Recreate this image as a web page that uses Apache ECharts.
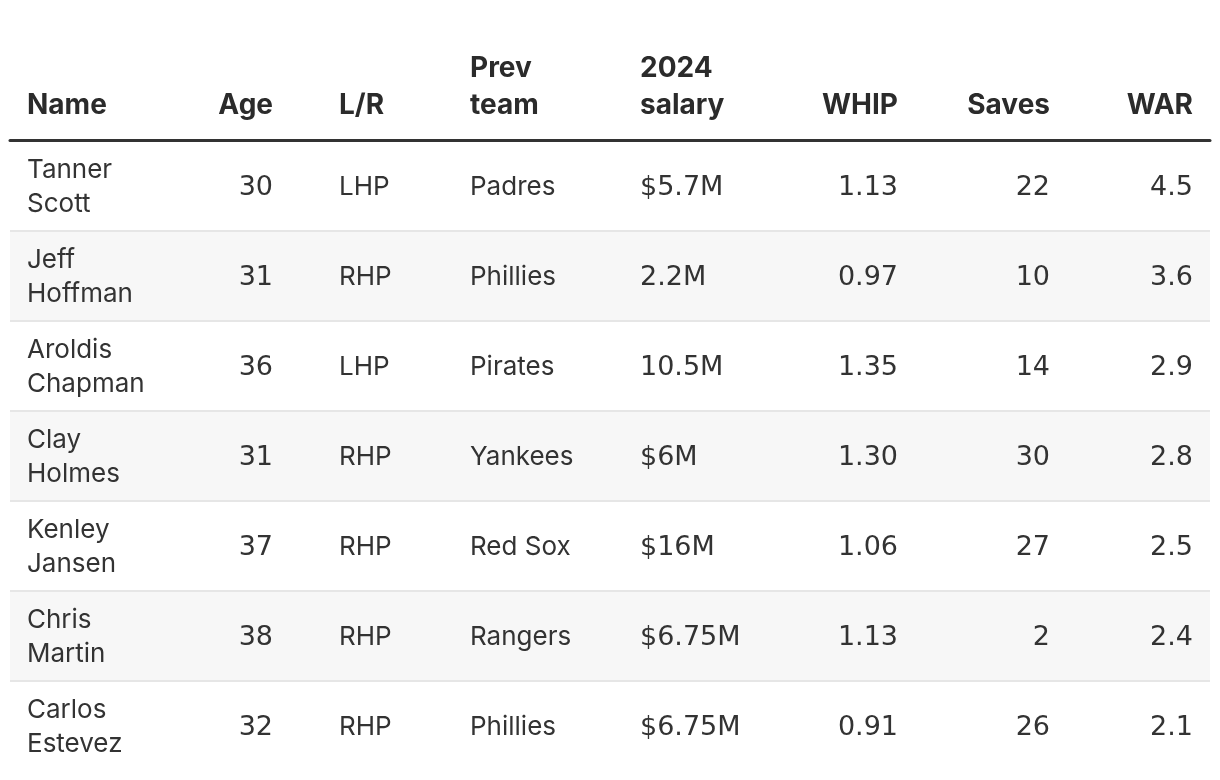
<!DOCTYPE html>
<html>
<head>
<meta charset="utf-8">
<script src="https://cdn.jsdelivr.net/npm/echarts@6/dist/echarts.min.js"></script>
<style>
  html, body { margin: 0; padding: 0; background: #fff; }
  #chart { width: 1220px; height: 780px; }
</style>
</head>
<body>
<div id="chart"></div>
<script>
// table data
const headers = ['Name', 'Age', 'L/R', 'Prev\nteam', '2024\nsalary', 'WHIP', 'Saves', 'WAR']
const names = ['Tanner\nScott', 'Jeff\nHoffman', 'Aroldis\nChapman', 'Clay\nHolmes', 'Kenley\nJansen', 'Chris\nMartin', 'Carlos\nEstevez']
const ages = [30, 31, 36, 31, 37, 38, 32]
const hands = ['LHP', 'RHP', 'LHP', 'RHP', 'RHP', 'RHP', 'RHP']
const prevTeams = ['Padres', 'Phillies', 'Pirates', 'Yankees', 'Red Sox', 'Rangers', 'Phillies']
const salaries = ['$5.7M', '2.2M', '10.5M', '$6M', '$16M', '$6.75M', '$6.75M']
const whips = [1.13, 0.97, 1.35, 1.30, 1.06, 1.13, 0.91]
const saves = [22, 10, 14, 30, 27, 2, 26]
const wars = [4.5, 3.6, 2.9, 2.8, 2.5, 2.4, 2.1]

// column anchors (x offset inside the table), alignment, numeric font or not
const colX = [17, 263, 329, 460, 630, 888, 1040, 1183]
const colAlign = ['left', 'right', 'left', 'left', 'left', 'right', 'right', 'right']
const colNumeric = [false, true, false, false, true, true, true, true]

const tableLeft = 10
const tableWidth = 1200
const bodyFont = '400 26px Inter, "Noto Sans", sans-serif'
// wide tabular figures like the original
const numFont = '400 27px "DejaVu Sans", sans-serif'
const headFont = '700 28px Inter, "Noto Sans", sans-serif'
const textColor = '#333'

const cellText = i => [
  names[i],
  String(ages[i]),
  hands[i],
  prevTeams[i],
  salaries[i],
  whips[i].toFixed(2),
  String(saves[i]),
  wars[i].toFixed(1)
]

const chart = echarts.init(document.getElementById('chart'))

const renderRow = (params, api) => {
  const i = api.value(0)
  const center = api.coord([0, i])
  const band = api.size([0, 1])[1]
  const top = center[1] - band / 2
  const left = center[0]
  const children = []
  if (i % 2 === 1) {
    children.push({
      type: 'rect',
      shape: { x: left, y: top, width: tableWidth, height: band },
      style: { fill: '#f7f7f7' }
    })
  }
  if (i > 0) {
    children.push({
      type: 'rect',
      shape: { x: left, y: top, width: tableWidth, height: 2 },
      style: { fill: '#e6e6e6' }
    })
  }
  cellText(i).forEach((t, c) => {
    children.push({
      type: 'text',
      style: {
        text: t,
        x: left + colX[c],
        y: center[1] + (colNumeric[c] ? 3 : 2),
        align: colAlign[c],
        verticalAlign: 'middle',
        font: colNumeric[c] ? numFont : bodyFont,
        lineHeight: 34,
        fill: textColor
      }
    })
  })
  return { type: 'group', children }
}

chart.setOption({
  backgroundColor: '#fff',
  animation: false,
  grid: { left: tableLeft, right: 1220 - tableLeft - tableWidth, top: 140, bottom: 10 },
  xAxis: {
    type: 'value',
    min: 0,
    max: tableWidth,
    position: 'top',
    axisLine: { show: true, onZero: false, lineStyle: { color: '#333', width: 3 } },
    axisTick: { show: false },
    axisLabel: { show: false },
    splitLine: { show: false }
  },
  yAxis: {
    type: 'category',
    inverse: true,
    data: names.map((_, i) => i),
    axisLine: { show: false },
    axisTick: { show: false },
    axisLabel: { show: false },
    splitLine: { show: false }
  },
  graphic: headers.map((h, c) => ({
    type: 'text',
    x: tableLeft + colX[c],
    y: 124,
    style: {
      text: h,
      align: colAlign[c],
      verticalAlign: 'bottom',
      font: headFont,
      lineHeight: 37,
      fill: '#2b2b2b'
    }
  })),
  series: [{
    type: 'custom',
    renderItem: renderRow,
    data: names.map((_, i) => [i]),
    encode: { y: 0 },
    silent: true
  }]
})
</script>
</body>
</html>
